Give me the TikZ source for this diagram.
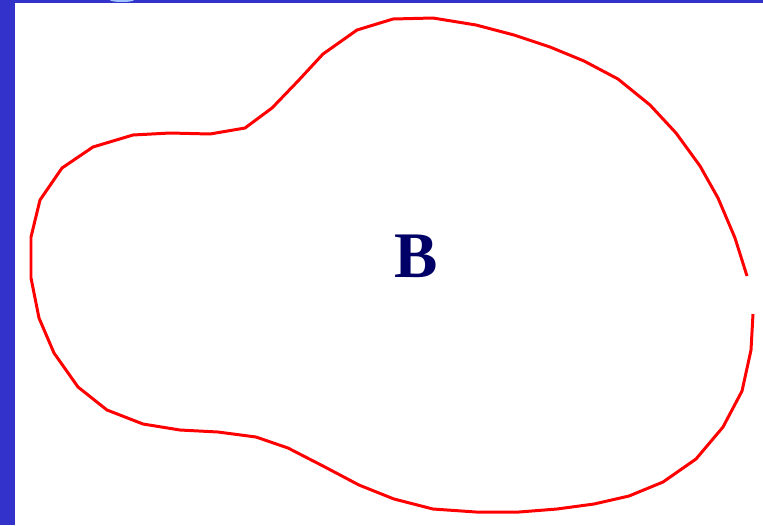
\documentclass[tikz,border=0pt]{standalone}
\usepackage{fontspec}
\setmainfont{Liberation Serif}
\usepackage{tikz}
\definecolor{frameblue}{HTML}{3333CC}
\definecolor{glowblue}{HTML}{9FC4FF}
\definecolor{labelnavy}{HTML}{000066}
\tikzset{
  region/.style={draw=red, line width=1.7pt, line join=round},
  regionlabel/.style={font=\fontsize{37}{37}\selectfont\bfseries, text=labelnavy}
}

\begin{document}
\begin{tikzpicture}[x=0.02cm,y=-0.02cm]
  \useasboundingbox (0,0) rectangle (763,525);
  \fill[white] (0,0) rectangle (763,525);
  % frame strips
  \fill[frameblue] (0,0) rectangle (15,525);
  \fill[frameblue] (0,0) rectangle (763,3);
  \begin{scope}
    \clip (15,0) rectangle (763,3);
    \fill[glowblue] (122,0) ellipse (12 and 2);
  \end{scope}

  % the region B (open at the right)
  \draw[region] (747,276) -- (735,238) -- (718,198) -- (700,166) -- (676,133) -- (650,105) -- (618,79)
    -- (584,61) -- (550,47) -- (514,35) -- (476,25) -- (433,18) -- (393,19) -- (357,30) -- (323,54)
    -- (298,81) -- (272,108) -- (245,128) -- (210,134) -- (170,133) -- (133,135) -- (93,147) -- (62,168)
    -- (40,200) -- (31,237) -- (31,278) -- (39,318) -- (54,353) -- (78,387) -- (107,410) -- (143,424)
    -- (180,430) -- (218,432) -- (256,437) -- (288,448) -- (323,466) -- (359,485) -- (394,499)
    -- (433,509) -- (476,512) -- (519,512) -- (557,509) -- (594,504) -- (629,496) -- (663,482)
    -- (696,459) -- (723,427) -- (742,391) -- (751,350) -- (753,314);

  \node[regionlabel] (lblB) at (416,256) {B};
\end{tikzpicture}
\end{document}
